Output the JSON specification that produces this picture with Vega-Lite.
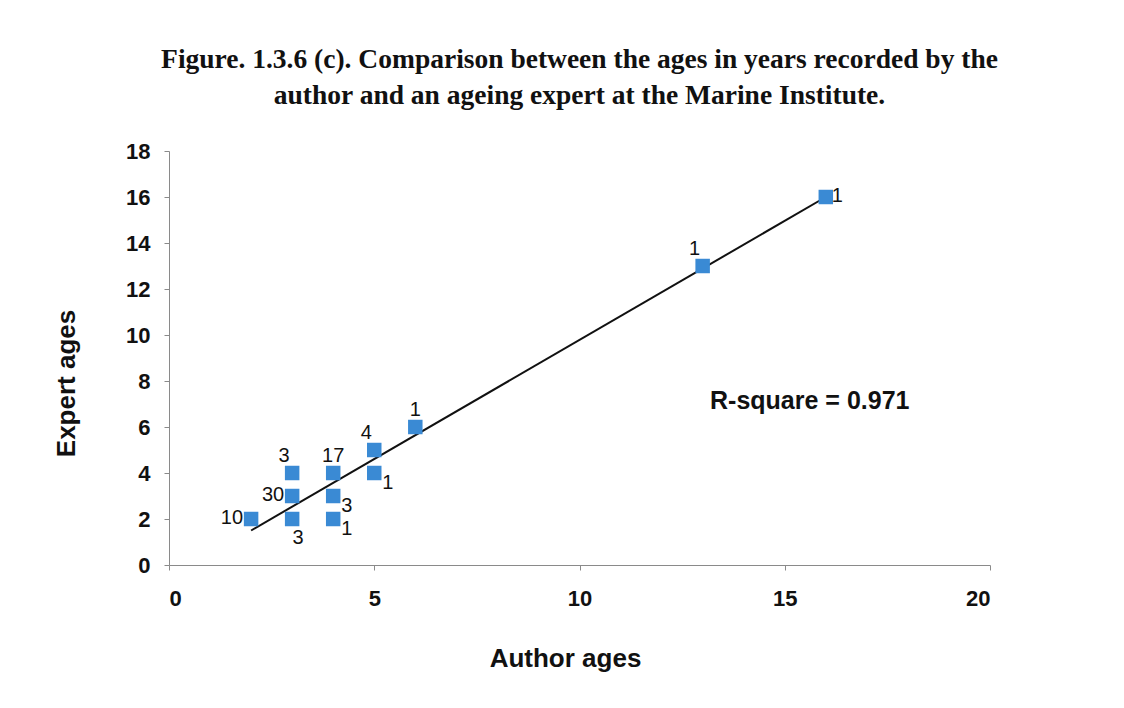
{
  "$schema": "https://vega.github.io/schema/vega-lite/v6.json",
  "width": 821,
  "height": 414,
  "autosize": "none",
  "padding": {"left": 169, "top": 151, "right": 134, "bottom": 143},
  "background": "white",
  "config": {
    "view": {"stroke": null},
    "axis": {"grid": false, "domainColor": "#8a8a8a", "tickColor": "#8a8a8a", "tickSize": 5, "labelFont": "Liberation Sans", "labelFontWeight": "bold", "labelFontSize": 22, "labelColor": "#111", "titleFont": "Liberation Sans", "titleFontWeight": "bold", "titleFontSize": 26, "titleColor": "#111"}
  },
  "title": {
    "text": ["Figure. 1.3.6 (c). Comparison between the ages in years recorded by the", "author and an ageing expert at the Marine Institute."],
    "font": "Liberation Serif",
    "fontSize": 27.5,
    "fontWeight": "bold",
    "color": "#111",
    "anchor": "middle",
    "lineHeight": 36,
    "offset": 31
  },
  "datasets": {
    "points": [
      {"author": 2, "expert": 2, "count": 10},
      {"author": 3, "expert": 2, "count": 3},
      {"author": 3, "expert": 3, "count": 30},
      {"author": 3, "expert": 4, "count": 3},
      {"author": 4, "expert": 2, "count": 1},
      {"author": 4, "expert": 3, "count": 3},
      {"author": 4, "expert": 4, "count": 17},
      {"author": 5, "expert": 4, "count": 1},
      {"author": 5, "expert": 5, "count": 4},
      {"author": 6, "expert": 6, "count": 1},
      {"author": 13, "expert": 13, "count": 1},
      {"author": 16, "expert": 16, "count": 1}
    ],
    "fit": [
      {"author": 2, "expert": 1.5},
      {"author": 16, "expert": 16}
    ],
    "note": [
      {"author": 13.18, "expert": 7.15, "text": "R-square = 0.971"}
    ]
  },
  "encoding": {
    "x": {"field": "author", "type": "quantitative", "scale": {"domain": [0, 20]}, "axis": {"title": "Author ages", "values": [0, 5, 10, 15, 20], "labelPadding": 18, "titlePadding": 36, "titleX": 396}},
    "y": {"field": "expert", "type": "quantitative", "scale": {"domain": [0, 18]}, "axis": {"title": "Expert ages", "values": [0, 2, 4, 6, 8, 10, 12, 14, 16, 18], "labelPadding": 14, "titlePadding": 46, "titleY": 232}}
  },
  "layer": [
    {"data": {"name": "fit"}, "mark": {"type": "line", "color": "#111", "strokeWidth": 2}},
    {"data": {"name": "points"}, "mark": {"type": "square", "color": "#3a8ad4", "opacity": 1, "size": 210}},
    {"data": {"name": "points"}, "transform": [{"filter": "(datum.author == 2 && datum.expert == 2) || (datum.author == 3 && datum.expert == 3)"}],
     "mark": {"type": "text", "align": "right", "baseline": "middle", "dx": -8, "dy": -1, "font": "Liberation Sans", "fontSize": 20, "color": "#111"},
     "encoding": {"text": {"field": "count", "type": "quantitative"}}},
    {"data": {"name": "points"}, "transform": [{"filter": "(datum.author == 3 && datum.expert == 4) || (datum.author == 5 && datum.expert == 5) || datum.author == 13"}],
     "mark": {"type": "text", "align": "center", "baseline": "middle", "dx": -8, "dy": -17, "font": "Liberation Sans", "fontSize": 20, "color": "#111"},
     "encoding": {"text": {"field": "count", "type": "quantitative"}}},
    {"data": {"name": "points"}, "transform": [{"filter": "(datum.author == 4 && datum.expert == 4) || datum.author == 6"}],
     "mark": {"type": "text", "align": "center", "baseline": "middle", "dx": 0, "dy": -17, "font": "Liberation Sans", "fontSize": 20, "color": "#111"},
     "encoding": {"text": {"field": "count", "type": "quantitative"}}},
    {"data": {"name": "points"}, "transform": [{"filter": "(datum.author == 3 && datum.expert == 2)"}],
     "mark": {"type": "text", "align": "center", "baseline": "middle", "dx": 6, "dy": 19, "font": "Liberation Sans", "fontSize": 20, "color": "#111"},
     "encoding": {"text": {"field": "count", "type": "quantitative"}}},
    {"data": {"name": "points"}, "transform": [{"filter": "(datum.author == 4 && datum.expert < 4) || (datum.author == 5 && datum.expert == 4)"}],
     "mark": {"type": "text", "align": "left", "baseline": "middle", "dx": 8, "dy": 10, "font": "Liberation Sans", "fontSize": 20, "color": "#111"},
     "encoding": {"text": {"field": "count", "type": "quantitative"}}},
    {"data": {"name": "points"}, "transform": [{"filter": "datum.author == 16"}],
     "mark": {"type": "text", "align": "left", "baseline": "middle", "dx": 6, "dy": -1, "font": "Liberation Sans", "fontSize": 20, "color": "#111"},
     "encoding": {"text": {"field": "count", "type": "quantitative"}}},
    {"data": {"name": "note"},
     "mark": {"type": "text", "align": "left", "baseline": "middle", "font": "Liberation Sans", "fontSize": 25, "fontWeight": "bold", "color": "#111"},
     "encoding": {"text": {"field": "text", "type": "nominal"}}}
  ]
}
